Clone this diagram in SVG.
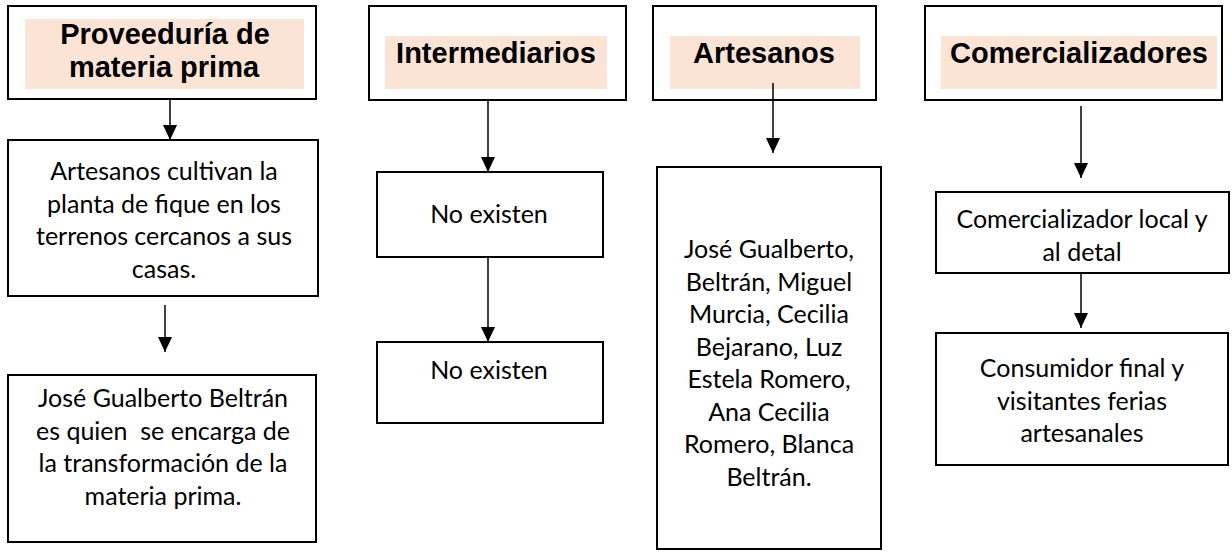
<svg xmlns="http://www.w3.org/2000/svg" width="1232" height="552" viewBox="0 0 1232 552">
<style>
.box{fill:#fff;stroke:#000;stroke-width:2}
.hl{fill:#FBE4D5}
.hd{font-family:"Liberation Sans",Arial,sans-serif;font-weight:bold;font-size:29px;fill:#000;text-anchor:middle}
.tx{font-family:Lato,"Open Sans",sans-serif;font-size:25px;fill:#000;text-anchor:middle}
.cn{stroke:#000;stroke-width:1.5;fill:none;marker-end:url(#ah)}
</style>
<defs>
<marker id="ah" viewBox="0 0 15 14" markerWidth="15" markerHeight="14" refX="15" refY="7" orient="auto" markerUnits="userSpaceOnUse">
<path d="M0,0 L15,7 L0,14 z" fill="#000"/>
</marker>
</defs>
<rect width="1232" height="552" fill="#fff"/>
<g id="n-proveeduria">
<rect class="box" x="8" y="6" width="308" height="93"/>
<rect class="hl" x="25" y="19" width="279" height="70"/>
<text class="hd" x="165" y="44">Proveeduría de</text>
<text class="hd" x="164" y="77">materia prima</text>
</g>
<g id="n-cultivan">
<rect class="box" x="8" y="140" width="310" height="156"/>
<text class="tx" x="164" y="180">Artesanos cultivan la</text>
<text class="tx" x="164" y="212.5">planta de fique en los</text>
<text class="tx" x="164" y="245">terrenos cercanos a sus</text>
<text class="tx" x="164" y="277.5">casas.</text>
</g>
<g id="n-transformacion">
<rect class="box" x="8" y="375" width="308" height="167"/>
<text class="tx" x="163" y="407">José Gualberto Beltrán</text>
<text class="tx" x="163" y="439.5" xml:space="preserve">es quien  se encarga de</text>
<text class="tx" x="163" y="472">la transformación de la</text>
<text class="tx" x="163" y="504.5">materia prima.</text>
</g>
<g id="n-intermediarios">
<rect class="box" x="369" y="6" width="257" height="94"/>
<rect class="hl" x="385" y="36" width="222" height="53"/>
<text class="hd" x="496" y="63">Intermediarios</text>
</g>
<g id="n-noexisten1">
<rect class="box" x="377" y="172" width="226" height="85"/>
<text class="tx" x="489" y="223">No existen</text>
</g>
<g id="n-noexisten2">
<rect class="box" x="377" y="342" width="226" height="81"/>
<text class="tx" x="489" y="379">No existen</text>
</g>
<g id="n-artesanos">
<rect class="box" x="653" y="6" width="223" height="94"/>
<rect class="hl" x="670" y="36" width="190" height="53"/>
<text class="hd" x="764" y="63">Artesanos</text>
</g>
<g id="n-lista">
<rect class="box" x="657" y="167" width="224" height="382"/>
<text class="tx" x="769" y="258">José Gualberto,</text>
<text class="tx" x="769" y="290.5">Beltrán, Miguel</text>
<text class="tx" x="769" y="323">Murcia, Cecilia</text>
<text class="tx" x="769" y="355.5">Bejarano, Luz</text>
<text class="tx" x="769" y="388">Estela Romero,</text>
<text class="tx" x="769" y="420.5">Ana Cecilia</text>
<text class="tx" x="769" y="453">Romero, Blanca</text>
<text class="tx" x="769" y="485.5">Beltrán.</text>
</g>
<g id="n-comercializadores">
<rect class="box" x="925" y="6" width="297" height="94"/>
<rect class="hl" x="941" y="36" width="276" height="53"/>
<text class="hd" x="1079" y="63">Comercializadores</text>
</g>
<g id="n-local">
<rect class="box" x="936" y="192" width="293" height="81"/>
<text class="tx" x="1082" y="228">Comercializador local y</text>
<text class="tx" x="1082" y="261">al detal</text>
</g>
<g id="n-consumidor">
<rect class="box" x="936" y="333" width="292" height="132"/>
<text class="tx" x="1082" y="377">Consumidor final y</text>
<text class="tx" x="1082" y="410">visitantes ferias</text>
<text class="tx" x="1082" y="442">artesanales</text>
</g>
<g id="connectors">
<line class="cn" x1="170" y1="99" x2="170" y2="140"/>
<line class="cn" x1="165" y1="305" x2="165" y2="352"/>
<line class="cn" x1="488" y1="100" x2="488" y2="172"/>
<line class="cn" x1="488" y1="257" x2="488" y2="342"/>
<line class="cn" x1="773" y1="83" x2="773" y2="153"/>
<line class="cn" x1="1081" y1="106" x2="1081" y2="178"/>
<line class="cn" x1="1081" y1="273" x2="1081" y2="328"/>
</g>
</svg>
